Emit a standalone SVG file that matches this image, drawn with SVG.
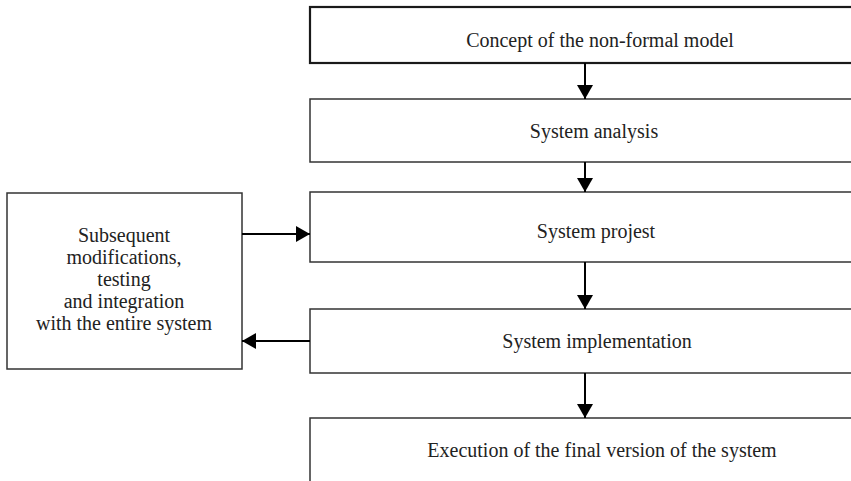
<svg xmlns="http://www.w3.org/2000/svg" width="851" height="481" viewBox="0 0 851 481">
  <style>
    .box { fill: #ffffff; stroke: #333333; stroke-width: 1.5; }
    .box-strong { stroke: #1a1a1a; stroke-width: 2.2; }
    .label { font-family: "Liberation Serif", "Times New Roman", serif; font-size: 20px; fill: #222222; text-anchor: middle; }
    .link { stroke: #000000; stroke-width: 2; fill: none; }
  </style>
  <defs>
    <marker id="arrow" viewBox="0 0 14 16" refX="14" refY="8" markerWidth="15" markerHeight="16" markerUnits="userSpaceOnUse" orient="auto">
      <path d="M0,0 L14,8 L0,16 Z" fill="#000000"/>
    </marker>
  </defs>
  <rect width="851" height="481" fill="#ffffff"/>

  <!-- process stages -->
  <g id="concept">
    <rect class="box box-strong" x="310" y="7" width="560" height="56"/>
    <text class="label" x="600" y="47">Concept of the non-formal model</text>
  </g>
  <g id="analysis">
    <rect class="box" x="310" y="99" width="560" height="63"/>
    <text class="label" x="594" y="138">System analysis</text>
  </g>
  <g id="project">
    <rect class="box" x="310" y="192" width="560" height="70"/>
    <text class="label" x="596" y="238">System projest</text>
  </g>
  <g id="implementation">
    <rect class="box" x="310" y="309" width="560" height="64"/>
    <text class="label" x="597" y="348">System implementation</text>
  </g>
  <g id="execution">
    <rect class="box" x="310" y="418" width="560" height="80"/>
    <text class="label" x="602" y="457">Execution of the final version of the system</text>
  </g>

  <!-- side loop -->
  <g id="modifications">
    <rect class="box" x="7" y="193" width="235" height="176"/>
    <text class="label" x="124" y="242">Subsequent</text>
    <text class="label" x="124" y="264">modifications,</text>
    <text class="label" x="124" y="286">testing</text>
    <text class="label" x="124" y="308">and integration</text>
    <text class="label" x="124" y="330">with the entire system</text>
  </g>

  <g id="connectors">
    <line class="link" x1="585" y1="63" x2="585" y2="99" marker-end="url(#arrow)"/>
    <line class="link" x1="585" y1="162" x2="585" y2="192" marker-end="url(#arrow)"/>
    <line class="link" x1="585" y1="262" x2="585" y2="309" marker-end="url(#arrow)"/>
    <line class="link" x1="585" y1="373" x2="585" y2="418" marker-end="url(#arrow)"/>
    <line class="link" x1="242" y1="234" x2="310" y2="234" marker-end="url(#arrow)"/>
    <line class="link" x1="310" y1="341" x2="242" y2="341" marker-end="url(#arrow)"/>
  </g>
</svg>
